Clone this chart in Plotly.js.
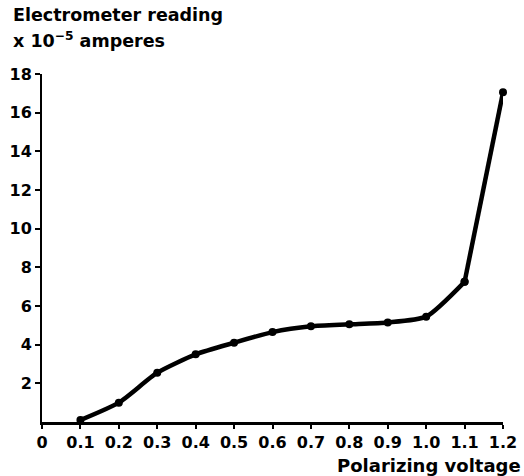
<!DOCTYPE html>
<html>
<head>
<meta charset="utf-8">
<script src="https://cdn.plot.ly/plotly-3.0.1.min.js"></script>
<style>html,body{margin:0;padding:0;background:#fff;}#chart{width:524px;height:476px;}</style>
</head>
<body>
<div id="chart"></div>
<script>
var voltage = [0.1, 0.2, 0.3, 0.4, 0.5, 0.6, 0.7, 0.8, 0.9, 1.0, 1.1, 1.2];
var reading = [0.1, 1.0, 2.55, 3.5, 4.1, 4.65, 4.95, 5.05, 5.15, 5.45, 7.25, 17.05];
var xTickVals = [0, 0.1, 0.2, 0.3, 0.4, 0.5, 0.6, 0.7, 0.8, 0.9, 1.0, 1.1, 1.2];
var xTickText = ['0', '0.1', '0.2', '0.3', '0.4', '0.5', '0.6', '0.7', '0.8', '0.9', '1.0', '1.1', '1.2'];
var yTickVals = [2, 4, 6, 8, 10, 12, 14, 16, 18];
var yTickText = ['2', '4', '6', '8', '10', '12', '14', '16', '18'];

var F = {family: 'DejaVu Sans', size: 16, color: '#000', weight: 'bold'};
var FT = {family: 'DejaVu Sans', size: 17.5, color: '#000', weight: 'bold'};
var splitIdx = 10; // smooth part up to 1.1, straight segment to 1.2

var traces = [
  {x: voltage.slice(0, splitIdx + 1), y: reading.slice(0, splitIdx + 1), mode: 'lines+markers',
   line: {color: '#000', width: 4.5, shape: 'spline', smoothing: 0.6},
   marker: {color: '#000', size: 8}, cliponaxis: false, showlegend: false, hoverinfo: 'skip'},
  {x: voltage.slice(splitIdx), y: reading.slice(splitIdx), mode: 'lines+markers',
   line: {color: '#000', width: 4.5},
   marker: {color: '#000', size: 8}, cliponaxis: false, showlegend: false, hoverinfo: 'skip'}
];

var layout = {
  width: 524, height: 476,
  margin: {l: 42, r: 21, t: 74, b: 54},
  paper_bgcolor: '#fff', plot_bgcolor: '#fff',
  font: F,
  xaxis: {range: [0, 1.2], showgrid: false, zeroline: false, showline: true, linecolor: '#000', linewidth: 3,
          tickvals: xTickVals, ticktext: xTickText, ticks: 'outside', ticklen: 4, tickwidth: 2, tickcolor: '#000',
          tickfont: F, fixedrange: true},
  yaxis: {range: [0, 18], showgrid: false, zeroline: false, showline: true, linecolor: '#000', linewidth: 2,
          tickvals: yTickVals, ticktext: yTickText, ticks: 'outside', ticklen: 5, tickwidth: 2, tickcolor: '#000',
          tickfont: F, fixedrange: true},
  annotations: [
    {text: 'Electrometer reading', xref: 'paper', yref: 'paper', x: -0.068, y: 1.17, xanchor: 'left', yanchor: 'middle', showarrow: false, font: FT},
    {text: 'x 10<sup>\u22125</sup> amperes', xref: 'paper', yref: 'paper', x: -0.068, y: 1.098, xanchor: 'left', yanchor: 'middle', showarrow: false, font: FT},
    {text: 'Polarizing voltage', xref: 'paper', yref: 'paper', x: 1.043, y: -0.125, xanchor: 'right', yanchor: 'middle', showarrow: false, font: {family: 'DejaVu Sans', size: 18, color: '#000', weight: 'bold'}}
  ]
};

Plotly.newPlot('chart', traces, layout, {displayModeBar: false, staticPlot: true});
</script>
</body>
</html>
